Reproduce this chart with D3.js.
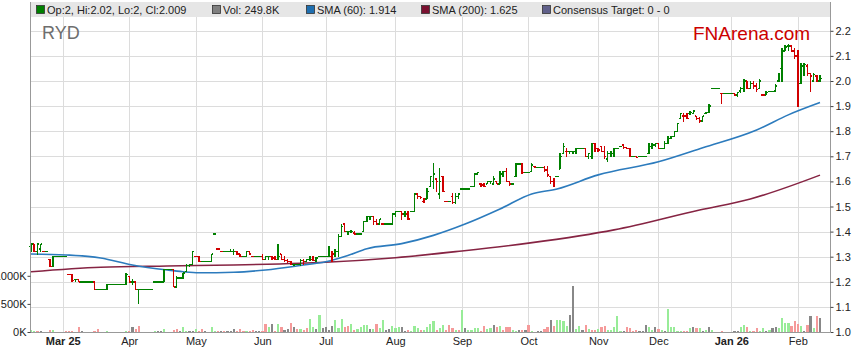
<!DOCTYPE html>
<html>
<head>
<meta charset="utf-8">
<script src="https://cdn.jsdelivr.net/npm/d3@7"></script>
<style>
  body { margin: 0; background: #fff; }
  svg { display: block; font-family: "Liberation Sans", Arial, sans-serif; }
</style>
</head>
<body>
<svg id="chart" width="859" height="363"></svg>
<script>
// daily bars, one row per trading day: [open, high, low, close]
const ohlc = [
  [1.34,1.35,1.32,1.35],[1.35,1.35,1.32,1.32],[1.32,1.35,1.31,1.35],[1.33,1.35,1.32,1.35],[1.32,1.32,1.32,1.32],
  [1.32,1.32,1.32,1.32],[1.29,1.29,1.26,1.26],[1.26,1.30,1.26,1.30],[1.30,1.30,1.30,1.30],[1.30,1.30,1.30,1.30],
  [1.30,1.30,1.30,1.30],[1.30,1.30,1.30,1.30],[1.23,1.23,1.23,1.23],[1.23,1.23,1.20,1.205],[1.21,1.21,1.20,1.21],
  [1.21,1.21,1.20,1.20],[1.20,1.20,1.20,1.20],[1.20,1.20,1.20,1.20],[1.20,1.20,1.20,1.20],[1.20,1.20,1.20,1.20],
  [1.20,1.20,1.17,1.17],[1.17,1.17,1.17,1.17],[1.17,1.17,1.17,1.17],[1.17,1.17,1.17,1.17],[1.17,1.19,1.17,1.19],
  [1.19,1.19,1.19,1.19],[1.19,1.19,1.19,1.19],[1.19,1.19,1.19,1.19],[1.19,1.19,1.19,1.19],[1.19,1.19,1.19,1.19],
  [1.19,1.235,1.19,1.23],[1.22,1.22,1.20,1.20],[1.20,1.21,1.19,1.20],[1.20,1.20,1.17,1.17],[1.17,1.17,1.115,1.17],
  [1.17,1.17,1.17,1.17],[1.17,1.17,1.17,1.17],[1.17,1.17,1.17,1.17],[1.17,1.17,1.17,1.17],[1.20,1.20,1.20,1.20],
  [1.20,1.20,1.20,1.20],[1.20,1.20,1.20,1.20],[1.20,1.25,1.20,1.25],[1.25,1.25,1.25,1.25],[1.25,1.25,1.25,1.25],
  [1.25,1.25,1.18,1.18],[1.18,1.22,1.18,1.215],[1.215,1.215,1.215,1.215],[1.215,1.235,1.215,1.235],[1.24,1.27,1.24,1.265],
  [1.265,1.27,1.26,1.27],[1.27,1.32,1.27,1.32],[1.30,1.30,1.30,1.30],[1.30,1.30,1.28,1.28],[1.28,1.28,1.28,1.28],
  [1.28,1.28,1.28,1.28],[1.28,1.28,1.28,1.28],[1.28,1.31,1.28,1.31],[1.39,1.39,1.39,1.39],[1.33,1.33,1.33,1.33],
  [1.32,1.32,1.32,1.32],[1.32,1.32,1.32,1.32],[1.32,1.32,1.32,1.32],[1.32,1.33,1.32,1.32],[1.32,1.33,1.31,1.32],
  [1.32,1.32,1.31,1.31],[1.31,1.31,1.30,1.30],[1.30,1.30,1.30,1.30],[1.30,1.32,1.30,1.32],[1.32,1.32,1.31,1.31],
  [1.30,1.30,1.30,1.30],[1.30,1.30,1.30,1.30],[1.30,1.30,1.30,1.30],[1.30,1.31,1.29,1.29],[1.29,1.30,1.29,1.30],
  [1.30,1.30,1.29,1.30],[1.30,1.30,1.29,1.295],[1.295,1.30,1.29,1.29],[1.29,1.35,1.29,1.30],[1.31,1.31,1.29,1.29],
  [1.29,1.30,1.28,1.285],[1.285,1.29,1.275,1.28],[1.28,1.28,1.27,1.27],[1.27,1.27,1.265,1.27],[1.27,1.27,1.27,1.27],
  [1.27,1.29,1.265,1.285],[1.285,1.29,1.27,1.28],[1.28,1.29,1.28,1.29],[1.29,1.30,1.285,1.29],[1.29,1.30,1.285,1.285],
  [1.285,1.295,1.28,1.295],[1.30,1.30,1.30,1.30],[1.30,1.30,1.30,1.30],[1.30,1.30,1.30,1.30],[1.30,1.34,1.30,1.33],
  [1.30,1.32,1.28,1.31],[1.31,1.33,1.30,1.32],[1.32,1.39,1.30,1.38],[1.38,1.43,1.38,1.42],[1.43,1.43,1.40,1.40],
  [1.40,1.40,1.39,1.40],[1.40,1.405,1.395,1.40],[1.395,1.40,1.39,1.39],[1.39,1.39,1.39,1.39],[1.39,1.39,1.39,1.39],
  [1.40,1.44,1.40,1.44],[1.44,1.46,1.44,1.46],[1.46,1.46,1.45,1.46],[1.46,1.46,1.43,1.44],[1.44,1.45,1.43,1.43],
  [1.43,1.45,1.43,1.45],[1.43,1.43,1.43,1.43],[1.43,1.43,1.43,1.43],[1.43,1.43,1.43,1.43],[1.43,1.47,1.43,1.47],
  [1.47,1.48,1.46,1.48],[1.48,1.48,1.48,1.48],[1.48,1.48,1.45,1.47],[1.47,1.48,1.46,1.47],[1.47,1.48,1.45,1.45],
  [1.48,1.48,1.48,1.48],[1.48,1.55,1.48,1.55],[1.55,1.55,1.53,1.54],[1.54,1.54,1.53,1.535],[1.52,1.53,1.515,1.53],
  [1.53,1.57,1.53,1.56],[1.58,1.62,1.58,1.62],[1.60,1.67,1.57,1.63],[1.61,1.61,1.56,1.60],[1.55,1.65,1.53,1.60],
  [1.62,1.62,1.56,1.56],[1.52,1.52,1.52,1.52],[1.52,1.52,1.52,1.52],[1.54,1.55,1.51,1.515],[1.515,1.55,1.51,1.54],
  [1.54,1.55,1.53,1.55],[1.57,1.57,1.57,1.57],[1.57,1.57,1.57,1.57],[1.57,1.57,1.57,1.57],[1.58,1.58,1.58,1.58],
  [1.58,1.63,1.58,1.63],[1.63,1.635,1.63,1.635],[1.59,1.59,1.58,1.585],[1.585,1.59,1.58,1.58],[1.59,1.60,1.59,1.60],
  [1.60,1.60,1.59,1.60],[1.59,1.62,1.59,1.61],[1.60,1.60,1.59,1.59],[1.59,1.64,1.59,1.63],[1.63,1.64,1.62,1.64],
  [1.64,1.65,1.60,1.60],[1.60,1.60,1.585,1.59],[1.59,1.59,1.59,1.59],[1.62,1.67,1.62,1.67],[1.67,1.67,1.67,1.67],
  [1.67,1.67,1.63,1.635],[1.635,1.635,1.635,1.635],[1.635,1.635,1.635,1.635],[1.64,1.67,1.64,1.665],[1.66,1.66,1.655,1.655],
  [1.655,1.655,1.655,1.655],[1.655,1.655,1.655,1.655],[1.655,1.66,1.64,1.645],[1.645,1.66,1.62,1.625],[1.62,1.62,1.59,1.60],
  [1.60,1.61,1.58,1.58],[1.62,1.62,1.62,1.62],[1.65,1.71,1.65,1.70],[1.71,1.75,1.71,1.74],[1.72,1.73,1.70,1.72],
  [1.72,1.72,1.71,1.72],[1.72,1.72,1.71,1.72],[1.72,1.73,1.71,1.73],[1.73,1.73,1.73,1.73],[1.73,1.73,1.73,1.73],
  [1.73,1.73,1.70,1.70],[1.70,1.71,1.69,1.71],[1.70,1.75,1.69,1.74],[1.75,1.75,1.72,1.73],[1.73,1.73,1.72,1.725],
  [1.74,1.74,1.72,1.72],[1.72,1.74,1.69,1.70],[1.69,1.72,1.68,1.71],[1.71,1.72,1.70,1.72],[1.71,1.73,1.70,1.73],
  [1.73,1.73,1.73,1.73],[1.74,1.74,1.74,1.74],[1.745,1.745,1.73,1.735],[1.735,1.735,1.73,1.73],[1.73,1.73,1.70,1.70],
  [1.70,1.70,1.70,1.70],[1.70,1.70,1.695,1.695],[1.70,1.70,1.70,1.70],[1.70,1.70,1.70,1.70],[1.70,1.70,1.70,1.70],
  [1.71,1.75,1.71,1.74],[1.74,1.75,1.73,1.745],[1.745,1.75,1.74,1.75],[1.75,1.75,1.73,1.73],[1.73,1.73,1.73,1.73],
  [1.73,1.76,1.73,1.75],[1.75,1.78,1.75,1.77],[1.77,1.78,1.77,1.78],[1.78,1.80,1.78,1.80],[1.80,1.83,1.80,1.83],
  [1.85,1.87,1.85,1.87],[1.86,1.87,1.84,1.86],[1.86,1.87,1.85,1.85],[1.87,1.88,1.865,1.875],[1.87,1.88,1.87,1.88],
  [1.86,1.86,1.845,1.85],[1.85,1.855,1.835,1.84],[1.84,1.86,1.84,1.86],[1.87,1.875,1.87,1.875],[1.875,1.905,1.875,1.90],
  [1.97,1.97,1.97,1.97],[1.97,1.97,1.97,1.97],[1.97,1.97,1.97,1.97],[1.95,1.95,1.91,1.95],[1.95,1.95,1.95,1.95],
  [1.95,1.95,1.95,1.95],[1.95,1.95,1.95,1.95],[1.95,1.95,1.945,1.945],[1.945,1.955,1.94,1.955],[1.96,1.975,1.955,1.97],
  [1.97,2.005,1.96,2.00],[2.00,2.00,1.97,1.97],[1.97,2.00,1.97,1.99],[1.99,2.00,1.97,1.98],[1.98,1.99,1.96,1.965],
  [1.97,2.005,1.97,2.00],[1.945,1.945,1.945,1.945],[1.945,1.96,1.945,1.955],[1.957,1.957,1.957,1.957],[1.957,1.957,1.957,1.957],
  [1.96,1.985,1.96,1.98],[2.00,2.03,2.00,2.03],[2.05,2.13,2.00,2.12],[2.12,2.14,2.12,2.135],[2.14,2.145,2.12,2.14],
  [2.14,2.14,2.12,2.12],[2.12,2.13,2.09,2.10],[2.10,2.12,1.90,2.00],[1.99,2.07,1.99,2.06],[2.03,2.07,2.02,2.065],
  [2.06,2.065,2.02,2.03],[2.03,2.03,1.96,2.02],[2.00,2.03,2.00,2.025],[2.02,2.02,2.00,2.00],[2.00,2.02,2.00,2.009]
];

// daily volume in thousands
const volumes = [
  41,25,25,25,8,5,30,41,5,5, 5,25,25,10,8,82,25,6,6,8, 20,47,5,5,15,5,5,5,5,8,
  25,25,94,47,112,8,5,5,5,20, 20,10,59,8,8,41,59,10,94,15, 25,25,53,15,59,10,8,82,15,15,
  10,10,20,20,53,15,59,20,20,20, 41,10,10,20,147,82,147,25,147,82, 35,59,165,88,59,47,30,65,223,88,
  47,306,65,82,35,112,206,65,223,88, 100,141,41,53,82,129,129,47,59,141, 70,218,35,53,106,70,82,88,15,30,
  15,100,65,41,30,88,147,188,41,70, 118,41,129,70,41,30,394,70,41,41, 70,76,15,100,59,70,129,88,100,41,
  94,94,41,25,30,41,41,129,10,8, 10,10,53,88,218,112,206,218,188,100, 306,817,59,106,41,129,59,30,41,59,
  88,112,41,41,82,288,25,10,94,65, 25,41,10,25,129,82,30,94,59,30, 10,412,94,82,25,25,25,25,76,88,
  76,76,10,30,94,41,5,5,20,5, 5,5,25,10,82,129,88,25,25,76, 25,65,10,30,70,94,65,253,165,165,
  112,200,141,106,10,129,288,65,288,249.8
];
// volume bar colour per day, ten days per string: g = up, r = down, n = unchanged
const volDir = [
  "ggrnrnrgnn", "nrrrnrnnnr", "rrnngnnnnn", "grnrrnnnng", "nngnnrrngg",
  "nngrrnnggr", "nrnnnrrrgr", "rnnrrgnrgr", "nnrnrgrrgg", "ngnnnngggr",
  "rgrggggngr", "ggnngggnnr", "gggrggggrg", "grrrgrgngg", "ggrrggnrgr",
  "rrggnrnrgr", "nnrrnrgggg", "nnggnrgrrg", "rrgggggnrr", "rrnnnggnrg",
  "ngggggrrgn", "rgngngnnrn", "nnnnggrgrr", "ggngnngggg", "rrrgnrngrn"
].join("");

// moving averages read at sample days: [day index, value]
const sma60Pts = [
  [0,1.311],[11,1.307],[22,1.295],[32,1.267],[43,1.247],[48,1.240],[53,1.236],[64,1.238],
  [74,1.247],[85,1.265],[93,1.280],[100,1.305],[106,1.332],[117,1.352],[127,1.385],[137,1.430],
  [148,1.490],[158,1.550],[166,1.570],[179,1.626],[198,1.678],[212,1.734],[229,1.805],[239,1.865],[249,1.914]
];
const sma200Pts = [
  [0,1.240],[22,1.258],[43,1.263],[64,1.267],[85,1.274],[93,1.278],[115,1.296],[136,1.323],
  [157,1.354],[173,1.383],[184,1.407],[211,1.486],[227,1.530],[249,1.625]
];

const monthLabels = ["Mar 25","Apr","May","Jun","Jul","Aug","Sep","Oct","Nov","Dec","Jan 26","Feb"];
const monthIdx = [10,31,52,73,93,115,136,157,179,198,221,242];
const priceTicks = [1.0,1.1,1.2,1.3,1.4,1.5,1.6,1.7,1.8,1.9,2.0,2.1,2.2];
const volTicks = [0,500,1000];

const legendItems = [
  { text: "Op:2, Hi:2.02, Lo:2, Cl:2.009", color: "#008000", x: 36 },
  { text: "Vol: 249.8K", color: "#808080", x: 212 },
  { text: "SMA (60): 1.914", color: "#1f6fb0", x: 306 },
  { text: "SMA (200): 1.625", color: "#7a1030", x: 421 },
  { text: "Consensus Target: 0 - 0", color: "#60608a", x: 542 }
];

const svg = d3.select("#chart");
const pLeft = 30, pRight = 830, pTop = 17, pBottom = 332;

const x = d3.scaleLinear().domain([0, ohlc.length - 1]).range([31, 820]);
const y = d3.scaleLinear().domain([1.0, 2.2]).range([332, 30.8]);
const yv = d3.scaleLinear().domain([0, 1000]).range([332, 275.8]);

// legend strip
svg.append("rect").attr("x", pLeft).attr("y", 2).attr("width", pRight - pLeft + 1).attr("height", 15)
  .attr("fill", "#e6e6e6");
let lg = svg.append("g");
legendItems.forEach(d => {
  lg.append("rect").attr("x", d.x + 0.5).attr("y", 5.5).attr("width", 8).attr("height", 8)
    .attr("fill", d.color).attr("stroke", "#333").attr("stroke-width", 0.8);
  lg.append("text").attr("x", d.x + 11).attr("y", 13.5).attr("font-size", 11).attr("fill", "#222").text(d.text);
});

// grid
let grid = svg.append("g").attr("stroke", "#dcdcdc").attr("stroke-width", 1).attr("shape-rendering", "crispEdges");
priceTicks.forEach(p => {
  grid.append("line").attr("x1", pLeft).attr("x2", pRight).attr("y1", Math.round(y(p)) + 0.5).attr("y2", Math.round(y(p)) + 0.5);
});
monthIdx.forEach(i => {
  grid.append("line").attr("x1", Math.round(x(i)) + 0.5).attr("x2", Math.round(x(i)) + 0.5).attr("y1", pTop).attr("y2", pBottom);
});

// watermark texts
svg.append("text").attr("x", 42).attr("y", 39).attr("font-size", 18).attr("fill", "#6e6e6e").text("RYD");
svg.append("text").attr("x", 693).attr("y", 40).attr("font-size", 19).attr("fill", "#cc0000").text("FNArena.com");

// volume bars
const volColor = { g: "#98ec98", r: "#f59a9a", n: "#888888" };
svg.append("g").attr("shape-rendering", "crispEdges")
  .selectAll("rect").data(volumes).enter().append("rect")
  .attr("x", (d, i) => x(i) - 1)
  .attr("width", 2.2)
  .attr("y", d => yv(d))
  .attr("height", d => yv(0) - yv(d))
  .attr("fill", (d, i) => volColor[volDir[i]] || "#888");

// moving averages
let smaLine = d3.line().curve(d3.curveMonotoneX).x(d => x(d[0])).y(d => y(d[1]));
svg.append("path").attr("d", smaLine(sma200Pts)).attr("fill", "none").attr("stroke", "#862443").attr("stroke-width", 1.6);
svg.append("path").attr("d", smaLine(sma60Pts)).attr("fill", "none").attr("stroke", "#2c7bbd").attr("stroke-width", 1.6);

// OHLC bars
let bars = svg.append("g").attr("stroke-width", 1.4).attr("shape-rendering", "crispEdges");
ohlc.forEach((d, i) => {
  const prev = i > 0 ? ohlc[i - 1][3] : d[0];
  const col = d[3] < prev ? "#d00000" : "#008000";
  const cx = x(i);
  const g = bars.append("g").attr("stroke", col);
  g.append("line").attr("x1", cx).attr("x2", cx).attr("y1", y(d[1]) - 0.5).attr("y2", y(d[2]) + 0.5);
  g.append("line").attr("x1", cx - 1.6).attr("x2", cx).attr("y1", y(d[0])).attr("y2", y(d[0]));
  g.append("line").attr("x1", cx).attr("x2", cx + 1.6).attr("y1", y(d[3])).attr("y2", y(d[3]));
});

// frame
svg.append("line").attr("x1", pLeft + 0.5).attr("x2", pLeft + 0.5).attr("y1", 2).attr("y2", pBottom)
  .attr("stroke", "#999");
svg.append("line").attr("x1", pLeft).attr("x2", pRight).attr("y1", pBottom + 0.5).attr("y2", pBottom + 0.5)
  .attr("stroke", "#999");

// right price axis
let yAxis = d3.axisRight(y).tickValues(priceTicks).tickFormat(d3.format(".1f")).tickSize(3).tickPadding(2);
let ya = svg.append("g").attr("transform", "translate(" + (pRight + 0.5) + ",0)").call(yAxis);
ya.select(".domain").attr("stroke", "#999").attr("d", "M0," + 2 + "V" + pBottom);
ya.selectAll("text").attr("font-size", 11).attr("fill", "#222").attr("font-family", "Liberation Sans, Arial, sans-serif");
ya.selectAll(".tick line").attr("stroke", "#444");

// left volume axis (the reference clips "1000K" at the window edge)
let vAxis = d3.axisLeft(yv).tickValues(volTicks).tickFormat(d => d + "K").tickSize(3).tickPadding(1);
let va = svg.append("g").attr("transform", "translate(" + (pLeft + 0.5) + ",0)").call(vAxis);
va.select(".domain").remove();
va.selectAll("text").attr("font-size", 11).attr("fill", "#222").attr("font-family", "Liberation Sans, Arial, sans-serif");
va.selectAll(".tick line").attr("stroke", "#444");

// month axis
let xAxis = d3.axisBottom(x).tickValues(monthIdx).tickFormat((d, i) => monthLabels[i]).tickSize(0).tickPadding(5);
let xa = svg.append("g").attr("transform", "translate(0," + pBottom + ")").call(xAxis);
xa.select(".domain").remove();
xa.selectAll("text").attr("font-size", 11).attr("fill", "#222").attr("font-family", "Liberation Sans, Arial, sans-serif")
  .attr("font-weight", (d, i) => monthLabels[i].includes(" ") ? "bold" : "normal");
</script>
</body>
</html>
